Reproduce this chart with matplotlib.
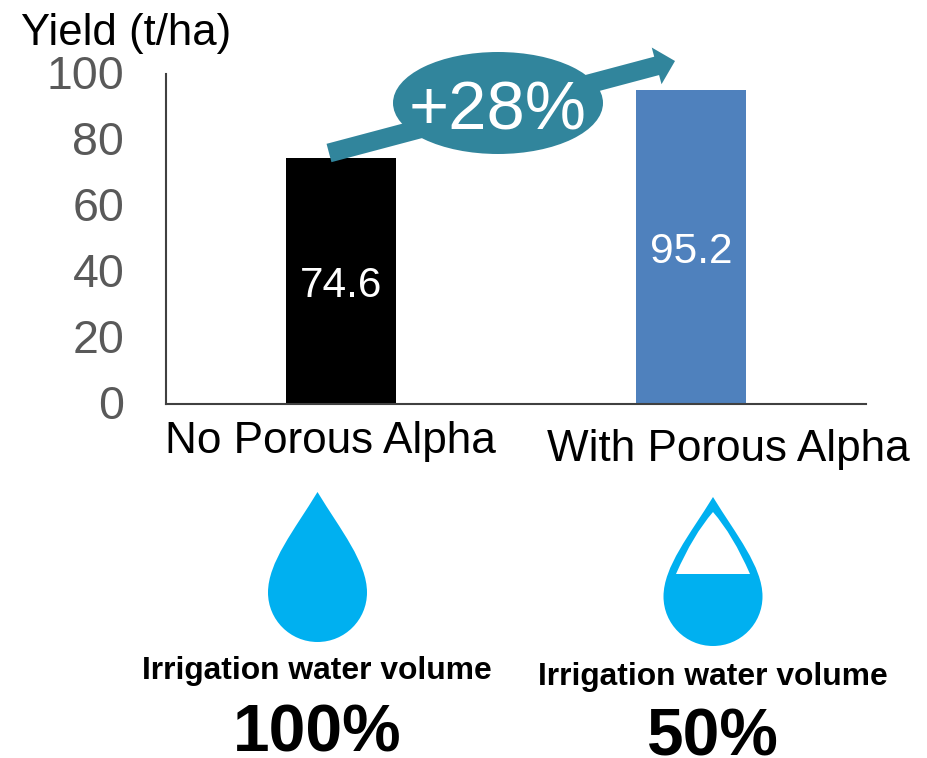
import matplotlib
matplotlib.use("Agg")
import matplotlib.pyplot as plt
from matplotlib.patches import Ellipse, FancyArrow, PathPatch
from matplotlib.path import Path
from matplotlib.transforms import ScaledTranslation

categories = ["No Porous Alpha", "With Porous Alpha"]
yields = [74.6, 95.2]
bar_colors = ["#000000", "#4f81bd"]
y_ticks = [0, 20, 40, 60, 80, 100]
water_label = "Irrigation water volume"
water_pct = ["100%", "50%"]

W, H = 927, 758
TEAL = "#31859c"
BLUE = "#00b0f0"

plt.rcParams['font.family'] = ['Liberation Sans', 'DejaVu Sans']

fig = plt.figure(figsize=(W / 100, H / 100), dpi=100)

# zone du graphique, en pixels de la reference
left, right, top, bottom = 166, 866, 74, 404
ax = fig.add_axes([left / W, 1 - bottom / H, (right - left) / W, (bottom - top) / H])
ax.bar([0, 1], yields, width=110 / 350, color=bar_colors, zorder=2)
ax.set_xlim(-0.5, 1.5)
ax.set_ylim(0, 100)
ax.set_yticks(y_ticks)
ax.set_xticks([])
ax.tick_params(axis='y', length=0, pad=30, labelsize=33.5, labelcolor="#595959")
for label in ax.get_yticklabels():
    label.set_transform(label.get_transform() + ScaledTranslation(0, 0.02, fig.dpi_scale_trans))
for s in ["top", "right"]:
    ax.spines[s].set_visible(False)
for s in ["left", "bottom"]:
    ax.spines[s].set_color("#404040")
    ax.spines[s].set_linewidth(1.5)

for i, v in enumerate(yields):
    ax.text(i, v / 2 - 1.5, f"{v}", color="white", fontsize=30.5,
            ha="center", va="center", zorder=3)

# calque en pixels pour les annotations
over = fig.add_axes([0, 0, 1, 1], zorder=5)
over.set_xlim(0, W)
over.set_ylim(H, 0)
over.axis("off")
over.patch.set_alpha(0)


def drop(cx, tip_y, bottom_y, half_w):
    # goutte d'eau : pointe en haut, ventre rond en bas
    belly = bottom_y - half_w
    h = belly - tip_y
    k = half_w * 0.5523
    verts = [
        (cx, tip_y),
        (cx - half_w * 0.47, tip_y + h * 0.38),
        (cx - half_w, tip_y + h * 0.70),
        (cx - half_w, belly),
        (cx - half_w, belly + k),
        (cx - k, bottom_y),
        (cx, bottom_y),
        (cx + k, bottom_y),
        (cx + half_w, belly + k),
        (cx + half_w, belly),
        (cx + half_w, tip_y + h * 0.70),
        (cx + half_w * 0.47, tip_y + h * 0.38),
        (cx, tip_y),
    ]
    codes = [Path.MOVETO] + [Path.CURVE4] * 12
    return Path(verts, codes)


def drop_gap(cx, tip_y, line_y, half_w):
    # partie vide de la goutte, au dessus du niveau d'eau
    verts = [
        (cx, tip_y),
        (cx - 20, 535),
        (cx - half_w, line_y),
        (cx + half_w, line_y),
        (cx + 20, 535),
        (cx, tip_y),
    ]
    codes = [Path.MOVETO, Path.CURVE3, Path.CURVE3, Path.LINETO, Path.CURVE3, Path.CURVE3]
    return Path(verts, codes)


over.text(21, 34, "Yield (t/ha)", fontsize=31.5, color="black", ha="left", va="center")
over.text(330, 441, categories[0], fontsize=31.8, color="black", ha="center", va="center")
over.text(728, 450, categories[1], fontsize=31.8, color="black", ha="center", va="center")

over.add_patch(FancyArrow(329, 153, 346, -92, width=19, head_width=38, head_length=19,
                          length_includes_head=True, color=TEAL, lw=0))
over.add_patch(Ellipse((498, 103), 210, 102, color=TEAL, lw=0))
over.text(498, 130, "+28%", fontsize=49.5, color="white", ha="center", va="baseline")

# goutte pleine
over.add_patch(PathPatch(drop(317.5, 492, 642, 49.5), fc=BLUE, ec="none"))

# goutte a moitie pleine
over.add_patch(PathPatch(drop(713, 497, 646, 49.5), fc=BLUE, ec="none"))
over.add_patch(PathPatch(drop_gap(713, 512, 574, 37), fc="white", ec="none"))

over.text(317, 671, water_label, fontsize=22.9, fontweight="bold", ha="center", va="center")
over.text(317, 752, water_pct[0], fontsize=47.4, fontweight="bold", ha="center", va="baseline")
over.text(713, 677, water_label, fontsize=22.9, fontweight="bold", ha="center", va="center")
over.text(713, 756, water_pct[1], fontsize=47.4, fontweight="bold", ha="center", va="baseline")

plt.savefig("out.png", dpi=100)
plt.close()
